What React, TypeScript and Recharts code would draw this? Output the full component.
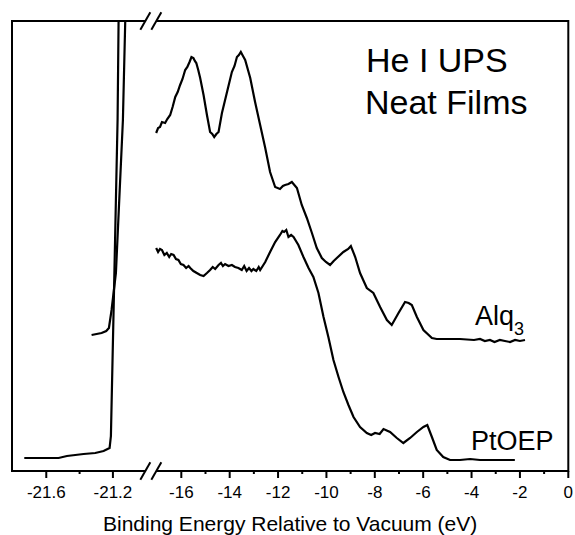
import React from "react";
import { LineChart, Line, XAxis, YAxis, ReferenceArea, ReferenceDot } from "recharts";

const FONT = "Arial, 'Liberation Sans', Helvetica, sans-serif";

// secondary-electron cutoff, left part of the broken axis: [eV, counts]
const alq3Cutoff: [number, number][] = [
  [-21.328, 136], [-21.268, 138], [-21.24, 140], [-21.224, 143], [-21.208, 161],
  [-21.182, 198], [-21.14, 351], [-21.126, 450], [-21.124, 495],
];
const ptoepCutoff: [number, number][] = [
  [-21.732, 13], [-21.526, 13], [-21.476, 15], [-21.376, 17], [-21.306, 18],
  [-21.256, 20], [-21.22, 23], [-21.212, 35], [-21.192, 191], [-21.172, 351],
  [-21.166, 450], [-21.164, 495],
];

// valence region, right part of the axis: [eV, counts]
const alq3Valence: [number, number][] = [
  [-17.04, 338], [-16.96, 343], [-16.88, 344], [-16.8, 349], [-16.67, 348],
  [-16.58, 352], [-16.46, 356], [-16.36, 364], [-16.25, 374], [-16.15, 379],
  [-16.05, 386], [-15.95, 392], [-15.84, 401], [-15.75, 404], [-15.66, 409],
  [-15.58, 414], [-15.5, 413], [-15.44, 410], [-15.38, 408], [-15.3, 401],
  [-15.22, 393], [-15.08, 376], [-14.94, 356], [-14.81, 339], [-14.72, 337],
  [-14.64, 334], [-14.55, 337], [-14.46, 339], [-14.32, 358], [-14.12, 378],
  [-13.91, 399], [-13.8, 405], [-13.7, 414], [-13.62, 416], [-13.54, 419],
  [-13.45, 415], [-13.36, 411], [-13.15, 393], [-12.95, 369], [-12.74, 346],
  [-12.53, 323], [-12.33, 299], [-12.12, 284], [-11.92, 282], [-11.8, 285],
  [-11.71, 286], [-11.57, 287], [-11.43, 289], [-11.22, 283], [-11.02, 266],
  [-10.81, 253], [-10.6, 238], [-10.4, 223], [-10.19, 213], [-10.02, 209],
  [-9.85, 206], [-9.7, 210], [-9.57, 213], [-9.3, 219], [-9.1, 222],
  [-8.99, 225], [-8.81, 214], [-8.61, 198], [-8.33, 183], [-8.06, 178],
  [-7.78, 164], [-7.5, 151], [-7.3, 146], [-7.02, 158], [-6.75, 169],
  [-6.6, 168], [-6.47, 166], [-6.26, 154], [-5.99, 141], [-5.64, 133],
  [-5.44, 132], [-4.48, 132], [-3.9, 131], [-3.65, 132], [-3.45, 130],
  [-3.24, 131], [-3.05, 129], [-2.83, 131], [-2.62, 130], [-2.41, 129],
  [-2.2, 131], [-2.0, 130], [-1.79, 131],
];
const ptoepValence: [number, number][] = [
  [-17.04, 223], [-16.96, 219], [-16.88, 222], [-16.8, 221], [-16.7, 216],
  [-16.6, 218], [-16.5, 214], [-16.42, 217], [-16.32, 216], [-16.22, 212],
  [-16.12, 211], [-16.02, 207], [-15.91, 206], [-15.8, 203], [-15.7, 205],
  [-15.63, 203], [-15.5, 200], [-15.36, 198], [-15.22, 196], [-15.08, 195],
  [-14.94, 198], [-14.81, 201], [-14.7, 204], [-14.6, 202], [-14.46, 206],
  [-14.36, 208], [-14.28, 205], [-14.19, 207], [-14.05, 205], [-13.91, 206],
  [-13.78, 204], [-13.64, 203], [-13.5, 201], [-13.4, 205], [-13.3, 200],
  [-13.2, 203], [-13.1, 200], [-13.02, 202], [-12.9, 200], [-12.8, 204],
  [-12.74, 201], [-12.53, 209], [-12.33, 219], [-12.12, 229], [-11.92, 236],
  [-11.82, 240], [-11.75, 239], [-11.66, 241], [-11.57, 234], [-11.46, 236],
  [-11.36, 234], [-11.16, 226], [-10.95, 214], [-10.74, 203], [-10.54, 194],
  [-10.33, 178], [-10.12, 154], [-9.92, 134], [-9.71, 111], [-9.5, 94],
  [-9.3, 79], [-9.09, 66], [-8.88, 54], [-8.61, 44], [-8.33, 38],
  [-8.15, 36], [-7.99, 38], [-7.8, 37], [-7.64, 42], [-7.37, 39],
  [-7.09, 33], [-6.82, 28], [-6.54, 33], [-6.26, 39], [-5.99, 44],
  [-5.83, 46], [-5.64, 34], [-5.44, 21], [-5.17, 14], [-4.89, 11],
  [-4.48, 11], [-4.06, 12], [-3.65, 11], [-2.21, 11],
];

const leftTicks = [-21.6, -21.4, -21.2];
const leftLabelled = [-21.6, -21.2];
const rightTicks = [-16, -15, -14, -13, -12, -11, -10, -9, -8, -7, -6, -5, -4, -3, -2, -1, 0];
const rightLabelled = [-16, -14, -12, -10, -8, -6, -4, -2, 0];

const xLabel = "Binding Energy Relative to Vacuum (eV)";
const titleLines = ["He I UPS", "Neat Films"];

// broken axis: the left piece is stretched and butted against the right piece
const BREAK_AT = -17.26;
const LEFT_STRETCH = 6.888;
const toAxisLeft = (e: number) => -21.583 + (e - -21.6) * LEFT_STRETCH;

const rows = (pts: [number, number][], left: boolean) =>
  pts.map(([e, c]) => ({ u: left ? toAxisLeft(e) : e, c }));

const tickInfo = [
  ...leftTicks.map((v) => ({ u: toAxisLeft(v), label: String(v), major: leftLabelled.includes(v) })),
  ...rightTicks.map((v) => ({ u: v, label: String(v), major: rightLabelled.includes(v) })),
];

const AxisTick = (props: any) => {
  const { x, y, payload } = props;
  const t = tickInfo.find((d) => Math.abs(d.u - payload.value) < 1e-6);
  if (!t) return null;
  return (
    <g>
      <line x1={x} x2={x} y1={y} y2={y + (t.major ? 7 : 3)} stroke="#000" strokeWidth={2} />
      {t.major && (
        <text x={x} y={y + 27} textAnchor="middle" fontSize={17} fontFamily={FONT} fill="#000">
          {t.label}
        </text>
      )}
    </g>
  );
};

const BreakMark = (props: any) => {
  const { cx, cy } = props;
  return (
    <g>
      <polygon
        points={`${cx - 10.5},${cy + 8.8} ${cx - 0.5},${cy - 8.8} ${cx + 10.5},${cy - 8.8} ${cx + 0.5},${cy + 8.8}`}
        fill="#fff"
      />
      <line x1={cx - 10.5} y1={cy + 8.8} x2={cx - 0.5} y2={cy - 8.8} stroke="#000" strokeWidth={2} />
      <line x1={cx + 0.5} y1={cy + 8.8} x2={cx + 10.5} y2={cy - 8.8} stroke="#000" strokeWidth={2} />
    </g>
  );
};

const AxisTitle = (props: any) => {
  const { viewBox } = props;
  if (!viewBox) return null;
  return (
    <text x={viewBox.x + viewBox.width / 2} y={viewBox.y + 60} textAnchor="middle" fontSize={21} fontFamily={FONT} fill="#000">
      {xLabel}
    </text>
  );
};

export default function App() {
  const lineProps = { type: "linear" as const, dataKey: "c", dot: false, stroke: "#000", strokeWidth: 2.2, isAnimationActive: false };
  return (
    <div style={{ position: "absolute", left: 8, top: 8, width: 565, height: 527 }}>
      <LineChart width={565} height={527} margin={{ top: 13, right: 4.7, left: 4, bottom: 4 }} style={{ overflow: "visible" }}>
        <XAxis
          type="number"
          dataKey="u"
          domain={[-23, 0]}
          allowDataOverflow
          ticks={tickInfo.map((t) => t.u)}
          interval={0}
          tick={<AxisTick />}
          tickLine={false}
          axisLine={false}
          tickSize={0}
          tickMargin={0}
          height={60}
          label={<AxisTitle />}
        />
        <YAxis type="number" domain={[0, 450]} allowDataOverflow hide />
        <ReferenceArea x1={-23} x2={0} y1={0} y2={450} fill="none" stroke="#000" strokeWidth={2} ifOverflow="visible" />
        <Line {...lineProps} data={rows(ptoepCutoff, true)} />
        <Line {...lineProps} data={rows(alq3Cutoff, true)} />
        <Line {...lineProps} data={rows(alq3Valence, false)} />
        <Line {...lineProps} data={rows(ptoepValence, false)} />
        <ReferenceDot x={BREAK_AT} y={450} ifOverflow="visible" shape={<BreakMark />} />
        <ReferenceDot x={BREAK_AT} y={0} ifOverflow="visible" shape={<BreakMark />} />
      </LineChart>
      <svg width={565} height={527} style={{ position: "absolute", left: 0, top: 0, pointerEvents: "none" }}>
        <g fontFamily={FONT} fill="#000">
          <text x={358} y={63.7} fontSize={34}>{titleLines[0]}</text>
          <text x={357} y={106.3} fontSize={34}>{titleLines[1]}</text>
          <text x={467} y={317} fontSize={27}>
            Alq<tspan fontSize={18} dy={10}>3</tspan>
          </text>
          <text x={463} y={442} fontSize={27}>PtOEP</text>
        </g>
      </svg>
    </div>
  );
}
